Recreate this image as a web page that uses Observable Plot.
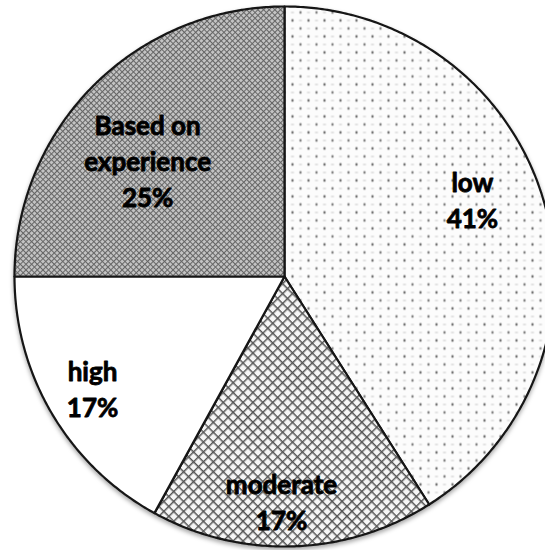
<!DOCTYPE html>
<html>
<head>
<meta charset="utf-8">
<script src="https://cdn.jsdelivr.net/npm/d3@7"></script>
<script src="https://cdn.jsdelivr.net/npm/@observablehq/plot@0.6"></script>
<style>
  html, body { margin: 0; padding: 0; background: #fff; }
  svg { display: block; }
</style>
</head>
<body>
<div id="chart"></div>
<script>
// Slices, clockwise from twelve o'clock
const categories = ["low", "moderate", "high", "Based on experience"];
const shares = [41, 17, 17, 25];
const labels = ["low\n41%", "moderate\n17%", "high\n17%", "Based on\nexperience\n25%"];

// Label anchors, in units of the pie radius (x to the right, y upward from the centre)
const labelAnchors = [[0.696, 0.289], [-0.011, -0.830], [-0.711, -0.411], [-0.507, 0.433]];
// Slice fills: SVG patterns defined below, plain white for "high"
const fills = ["url(#dots)", "url(#hatch)", "#ffffff", "url(#darkHatch)"];

const W = 545, H = 550;      // page size
const cx = 284, cy = 276;    // pie centre in pixels
const R = 270;               // pie radius in pixels

// Turn each slice into a closed outline (centre + arc) in radius units
const arcs = d3.pie().sort(null).value(d => d)(shares);
const outline = [];
arcs.forEach((a, i) => {
  const name = categories[i];
  outline.push({name, x: 0, y: 0});
  const n = Math.max(2, Math.ceil((a.endAngle - a.startAngle) / 0.01));
  for (let k = 0; k <= n; k++) {
    const t = a.startAngle + (a.endAngle - a.startAngle) * k / n;
    outline.push({name, x: Math.sin(t), y: Math.cos(t)});
  }
});

const labelData = labels.map((text, i) => ({text, x: labelAnchors[i][0], y: labelAnchors[i][1]}));

const chart = Plot.plot({
  width: W,
  height: H,
  margin: 0,
  style: {background: "#fff"},
  x: {domain: [-cx / R, (W - cx) / R], axis: null},
  y: {domain: [-(H - cy) / R, cy / R], axis: null},
  color: {domain: categories, range: fills},
  marks: [
    Plot.line(outline, {
      x: "x", y: "y", z: "name", fill: "name",
      stroke: "#151515", strokeWidth: 2.2,
      curve: "linear-closed", strokeLinejoin: "round"
    }),
    Plot.text(labelData, {
      x: "x", y: "y", text: "text",
      fontSize: 26, fontWeight: "bold", fontFamily: "Lato",
      lineHeight: 1.38, fill: "#000",
      stroke: "#000", strokeWidth: 0.8
    })
  ]
});

// Fill patterns and a soft shadow under the pie
d3.select(chart).insert("defs", ":first-child").html(`
  <pattern id="dots" patternUnits="userSpaceOnUse" width="16" height="16">
    <rect width="16" height="16" fill="#fcfcfc"/>
    <ellipse cx="4" cy="4" rx="1.2" ry="1.4" fill="#707070"/>
    <ellipse cx="12" cy="12" rx="1.2" ry="1.4" fill="#808080"/>
    <rect x="10.5" y="3.5" width="3" height="1" fill="#c8c8c8"/>
    <rect x="2.5" y="11.5" width="3" height="1" fill="#c8c8c8"/>
  </pattern>
  <pattern id="hatch" patternUnits="userSpaceOnUse" width="7" height="7" patternTransform="rotate(45)">
    <rect width="7" height="7" fill="#f6f6f6"/>
    <path d="M0 0.7H7M0.7 0V7" stroke="#555" stroke-width="1.5"/>
  </pattern>
  <pattern id="darkHatch" patternUnits="userSpaceOnUse" width="4" height="4" patternTransform="rotate(45)">
    <rect width="4" height="4" fill="#c4c4c4"/>
    <path d="M0 0.5H4M0.5 0V4" stroke="#666" stroke-width="1.1"/>
  </pattern>
  <filter id="shadow" x="-10%" y="-10%" width="120%" height="120%">
    <feDropShadow dx="0" dy="2.5" stdDeviation="2" flood-color="#000" flood-opacity="0.35"/>
  </filter>
`);
d3.select(chart).select("g[aria-label='line']").attr("filter", "url(#shadow)");

document.getElementById("chart").append(chart);
</script>
</body>
</html>
